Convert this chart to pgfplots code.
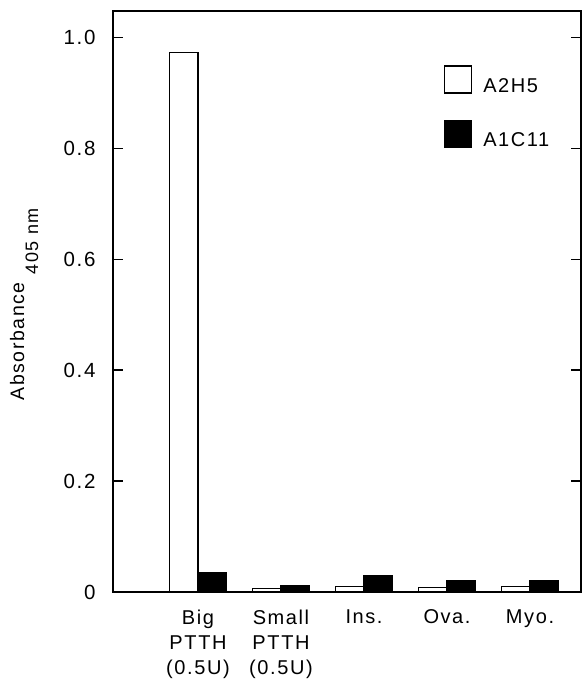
\documentclass[border=0pt]{standalone}
\usepackage{fontspec}
\setmainfont{Liberation Sans}[LetterSpace=8]
\usepackage{pgfplots}
\pgfplotsset{compat=1.18}
\begin{document}
\begin{tikzpicture}
\begin{axis}[
  name=ax,
  scale only axis,
  width=468pt, height=581pt,
  xmin=-1.024, xmax=4.614,
  ymin=0, ymax=1.048,
  axis line style={line width=1.5pt},
  ybar=0pt,
  bar width=28.5pt,
  xtick={0,1,2,3,4},
  xticklabels={{Big\\PTTH\\(0.5U)},{Small\\PTTH\\(0.5U)},{Ins.},{Ova.},{Myo.}},
  xtick style={draw=none},
  xticklabel style={align=center, font=\fontsize{20}{25}\selectfont, anchor=north, yshift=-14pt},
  ytick={0,0.2,0.4,0.6,0.8,1.0},
  yticklabels={0,0.2,0.4,0.6,0.8,1.0},
  /pgf/number format/assume math mode=true,
  ytick style={line width=1.5pt, black},
  tick align=inside,
  major tick length=10pt,
  yticklabel style={font=\fontsize{20.5}{20.5}\selectfont, xshift=-14pt},
  ylabel={Absorbance\hspace{8pt}\raisebox{-14pt}{\fontsize{18}{18}\selectfont 405 nm}},
  ylabel style={at={(axis description cs:-0.19,0.495)}, rotate=0, anchor=center, font=\fontsize{19.5}{19.5}\selectfont},
  legend style={draw=none, fill=none, at={(rel axis cs:0.70,0.91)}, anchor=north west,
    row sep=24pt, font=\fontsize{20}{20}\selectfont, cells={anchor=west}},
  legend image code/.code={\draw[#1,line width=1.5pt] (0pt,-7pt) rectangle (27pt,20pt); \path (36pt,0pt);},
]
\addplot[draw=black, fill=white, line width=1.5pt] coordinates {(0,0.973) (1,0.006) (2,0.010) (3,0.008) (4,0.010)};
\addplot[draw=black, fill=black, line width=1.5pt] coordinates {(0,0.034) (1,0.011) (2,0.030) (3,0.020) (4,0.020)};
\legend{A2H5, A1C11}
\end{axis}
\pgfresetboundingbox
\path[use as bounding box] ([xshift=-113pt,yshift=-93pt]ax.south west) rectangle ([xshift=469pt,yshift=592pt]ax.south west);
\end{tikzpicture}
\end{document}
